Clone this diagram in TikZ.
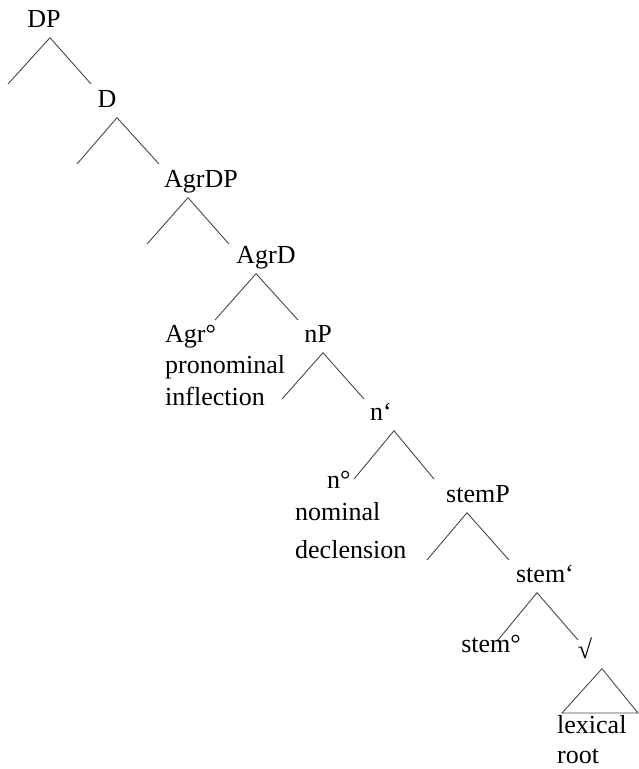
\documentclass[tikz,border=0pt]{standalone}
\usepackage{fontspec}
\setmainfont{Liberation Serif}
\usetikzlibrary{positioning}

\begin{document}
\begin{tikzpicture}[
    x=1pt, y=-1pt,
    every node/.style={font=\fontsize{26}{31.5}\selectfont},
    cat/.style={inner sep=0pt, anchor=base, text depth=10.5pt},
    leaf/.style={inner sep=0pt, anchor=base west, align=left},
    branch/.style={draw=black!72, line width=0.9pt}
  ]
    \useasboundingbox (0,0) rectangle (639,769);
    % category labels
    \node[cat] (dp) at (44,27) {DP};
    \node[cat] (d) at (107,107) {D};
    \node[cat] (agrdp) at (201,187) {AgrDP};
    \node[cat] (agrd) at (266,263) {AgrD};
    \node[cat] (np) at (318,342) {nP};
    \node[cat] (nbar) at (381,420) {n‘};
    \node[cat] (stemp) at (478,502) {stemP};
    \node[cat] (stembar) at (545,582) {stem‘};
    \node[cat] (stemhead) at (491,652) {stem°};
    \node[cat] (root) at (585,658) {√};
    % terminal blocks (base = last line)
    \node[leaf] (agrhead) at (165,405) {Agr°\\pronominal\\inflection};
    \node[leaf] (nhead) at (295,558) {\hspace*{32pt}n°\\[1pt]nominal\\[6pt]declension};
    \node[leaf] (lex) at (557,763) {lexical\\[-2pt]root};
    % branch ends
    \coordinate (dp-l) at (8,84);     \coordinate (dp-r) at (91,84);
    \coordinate (d-l) at (77,164);    \coordinate (d-r) at (159,164);
    \coordinate (agrdp-l) at (147,244); \coordinate (agrdp-r) at (229,244);
    \coordinate (agrd-l) at (215,320); \coordinate (agrd-r) at (298,320);
    \coordinate (np-l) at (282,399);  \coordinate (np-r) at (364,399);
    \coordinate (nbar-l) at (354,479); \coordinate (nbar-r) at (434,479);
    \coordinate (stemp-l) at (427,560); \coordinate (stemp-r) at (509,560);
    \coordinate (stembar-l) at (498,640); \coordinate (stembar-r) at (578,640);
    \coordinate (tri-l) at (562,713); \coordinate (tri-r) at (638,713);
    % branches
    \draw[branch] (dp-l) -- ([xshift=6]dp.south) -- (dp-r);
    \draw[branch] (d-l) -- ([xshift=10]d.south) -- (d-r);
    \draw[branch] (agrdp-l) -- ([xshift=-13]agrdp.south) -- (agrdp-r);
    \draw[branch] (agrd-l) -- ([xshift=-10]agrd.south) -- (agrd-r);
    \draw[branch] (np-l) -- ([xshift=5]np.south) -- (np-r);
    \draw[branch] (nbar-l) -- ([xshift=13]nbar.south) -- (nbar-r);
    \draw[branch] (stemp-l) -- ([xshift=-11]stemp.south) -- (stemp-r);
    \draw[branch] (stembar-l) -- ([xshift=-8]stembar.south) -- (stembar-r);
    \draw[branch] (tri-l) -- ([xshift=17]root.south) -- (tri-r) -- cycle;
  \end{tikzpicture}
\end{document}
